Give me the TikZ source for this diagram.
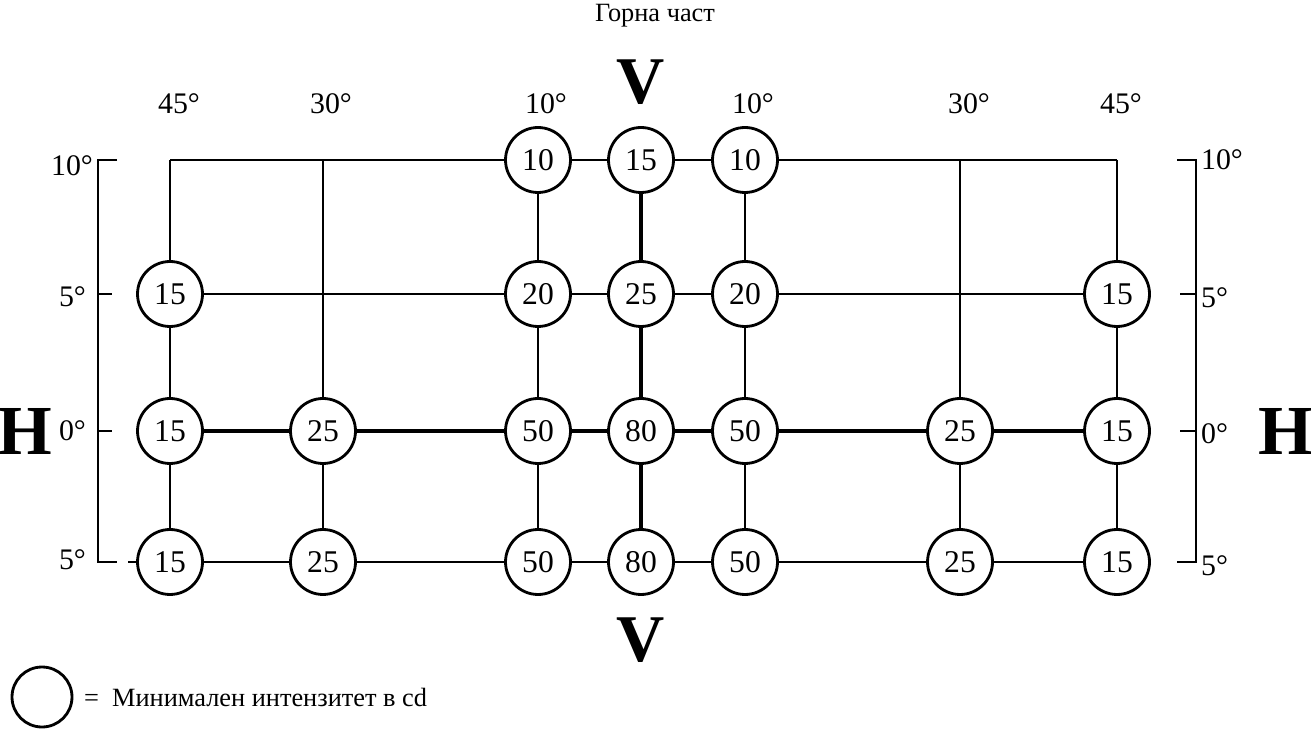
\documentclass[tikz,border=0pt]{standalone}
\usepackage{fontspec}
\setmainfont{Liberation Serif}
\usetikzlibrary{positioning}

\tikzset{
  cd/.style={circle,draw,fill=white,line width=1.6pt,minimum size=1.3cm,inner sep=0pt,font=\fontsize{18}{20}\selectfont},
  grid/.style={line width=1.3pt},
  midgrid/.style={line width=1.9pt},
  deg/.style={font=\fontsize{17}{20}\selectfont,inner sep=1pt},
  big/.style={font=\fontsize{40}{42}\selectfont\bfseries,inner sep=0pt}
}

\begin{document}
\begin{tikzpicture}[x=0.02cm,y=-0.02cm]
\useasboundingbox (0,0) rectangle (1311,732);

% top row
\coordinate (at) at (170,160);
\coordinate (bt) at (323,160);
\coordinate (ft) at (960,160);
\coordinate (gt) at (1117,160);
\node[cd] (ct) at (538,160) {10};
\node[cd] (dt) at (641,160) {15};
\node[cd] (et) at (745,160) {10};

% 5 deg row
\node[cd] (au) at (170,294) {15};
\node[cd] (cu) at (538,294) {20};
\node[cd] (du) at (641,294) {25};
\node[cd] (eu) at (745,294) {20};
\node[cd] (gu) at (1117,294) {15};

% 0 deg row
\node[cd] (am) at (170,431) {15};
\node[cd] (bm) at (323,431) {25};
\node[cd] (cm) at (538,431) {50};
\node[cd] (dm) at (641,431) {80};
\node[cd] (em) at (745,431) {50};
\node[cd] (fm) at (960,431) {25};
\node[cd] (gm) at (1117,431) {15};

% lower row
\node[cd] (al) at (170,562) {15};
\node[cd] (bl) at (323,562) {25};
\node[cd] (cl) at (538,562) {50};
\node[cd] (dl) at (641,562) {80};
\node[cd] (el) at (745,562) {50};
\node[cd] (fl) at (960,562) {25};
\node[cd] (gl) at (1117,562) {15};
\coordinate (stub) at (128,562);

% connectors
\draw[grid] (at) -- (ct) -- (dt) -- (et) -- (gt);
\draw[grid] (at) -- (au);
\draw[grid] (bt) -- (bm);
\draw[grid] (ft) -- (fm);
\draw[grid] (gt) -- (gu);
\draw[grid] (au) -- (cu) -- (du) -- (eu) -- (gu);
\draw[midgrid] (am) -- (bm) -- (cm) -- (dm) -- (em) -- (fm) -- (gm);
\draw[grid] (stub) -- (al) -- (bl) -- (cl) -- (dl) -- (el) -- (fl) -- (gl);
\draw[grid] (au) -- (am) -- (al);
\draw[grid] (bm) -- (bl);
\draw[grid] (ct) -- (cu) -- (cm) -- (cl);
\draw[midgrid] (dt) -- (du) -- (dm) -- (dl);
\draw[grid] (et) -- (eu) -- (em) -- (el);
\draw[grid] (fm) -- (fl);
\draw[grid] (gu) -- (gm) -- (gl);

% brackets
\draw[grid] (117,160) -- (98,160) -- (98,562) -- (117,562);
\draw[grid] (98,294) -- (112,294);
\draw[grid] (98,431) -- (112,431);
\draw[grid] (1177,160) -- (1196,160) -- (1196,562) -- (1177,562);
\draw[grid] (1196,294) -- (1180,294);
\draw[grid] (1196,431) -- (1180,431);

% angle labels
\node[deg,anchor=east] (l10) at (95,166) {10°};
\node[deg,anchor=east] (l5) at (88,297) {5°};
\node[deg,anchor=east] (l0) at (88,431) {0°};
\node[deg,anchor=east] (l5b) at (88,560) {5°};
\node[deg,anchor=west] (r10) at (1199,160) {10°};
\node[deg,anchor=west] (r5) at (1199,298) {5°};
\node[deg,anchor=west] (r0) at (1199,434) {0°};
\node[deg,anchor=west] (r5b) at (1199,566) {5°};

\node[deg] (h45l) at (179,104) {45°};
\node[deg] (h30l) at (331,104) {30°};
\node[deg] (h10l) at (546,104) {10°};
\node[deg] (h10r) at (753,104) {10°};
\node[deg] (h30r) at (969,104) {30°};
\node[deg] (h45r) at (1121,104) {45°};

\node[big] (hl) at (25,431) {H};
\node[big] (hr) at (1286,431) {H};
\node[big,font=\fontsize{38}{40}\selectfont\bfseries] (vt) at (641,82) {V};
\node[big,font=\fontsize{38}{40}\selectfont\bfseries] (vb) at (641,640) {V};
\node[deg,font=\fontsize{15}{18}\selectfont] (title) at (655,16) {Горна част};

% legend
\node[cd,minimum size=1.2cm] (key) at (42,697) {};
\node[deg,font=\fontsize{15}{18}\selectfont,anchor=west] (keytext) at (82,697) {=\ \ Минимален интензитет в cd};

\end{tikzpicture}
\end{document}
